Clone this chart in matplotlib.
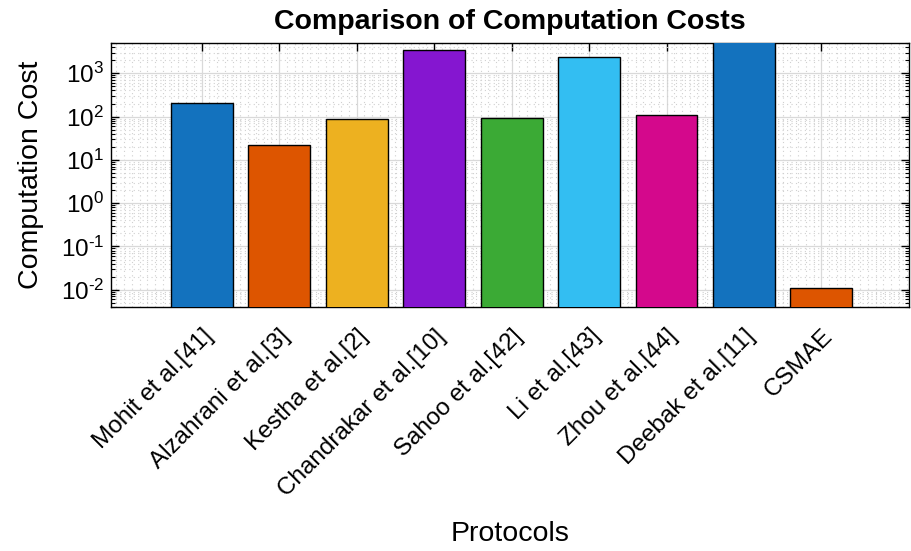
import matplotlib.pyplot as plt
import matplotlib.transforms as mtransforms
import numpy as np
from matplotlib.ticker import MultipleLocator, LogLocator, NullFormatter, FuncFormatter

plt.rcParams['font.family'] = ['Liberation Sans', 'DejaVu Sans']
plt.rcParams['mathtext.fontset'] = 'custom'
plt.rcParams['mathtext.rm'] = 'Liberation Sans'
plt.rcParams['mathtext.it'] = 'Liberation Sans:italic'
plt.rcParams['mathtext.bf'] = 'Liberation Sans:bold'

protocols = ['Mohit et al.[41]', 'Alzahrani et al.[3]', 'Kestha et al.[2]',
             'Chandrakar et al.[10]', 'Sahoo et al.[42]', 'Li et al.[43]',
             'Zhou et al.[44]', 'Deebak et al.[11]', 'CSMAE']
costs = [210, 22, 90, 3400, 95, 2400, 110, 6000, 0.011]
colors = ['#1372BE', '#DD5500', '#EDB120', '#8516D0', '#3BAA35',
          '#33BEF2', '#D4088C', '#1372BE', '#DD5500']


def pow10(v, pos):
    e = int(round(np.log10(v)))
    if e < 0:
        return r'$\mathregular{10^{\text{-}%d}}$' % (-e)
    return r'$\mathregular{10^{%d}}$' % e


fig = plt.figure(figsize=(9.11, 5.51), dpi=100)
ax = fig.add_axes([111/911, 1 - 307/551, (909-111)/911, (307-43)/551])

x = np.arange(1, len(protocols) + 1)
ax.bar(x, costs, width=0.8, color=colors, edgecolor='black', linewidth=1.0, zorder=3)

ax.set_yscale('log')
ax.set_ylim(0.004, 5000)
ax.set_xlim(-0.17, 10.13)

ax.set_xticks(x)
ax.set_xticklabels(protocols, rotation=45, ha='right', va='top',
                   rotation_mode='anchor', fontsize=17.5)
shift = mtransforms.ScaledTranslation(5/100, 0, fig.dpi_scale_trans)
for lbl in ax.get_xticklabels():
    lbl.set_transform(lbl.get_transform() + shift)
ax.xaxis.set_minor_locator(MultipleLocator(0.1))
ax.yaxis.set_major_locator(LogLocator(base=10, numticks=20))
ax.yaxis.set_major_formatter(FuncFormatter(pow10))
ax.yaxis.set_minor_locator(LogLocator(base=10, subs=np.arange(2, 10), numticks=20))
ax.yaxis.set_minor_formatter(NullFormatter())
ax.tick_params(axis='y', labelsize=17.5)

ax.tick_params(which='major', direction='in', length=6, width=1,
               top=True, right=True, pad=5)
ax.tick_params(axis='x', which='major', pad=13)
ax.tick_params(axis='y', which='minor', direction='in', length=3, width=0.8,
               left=True, right=True)
ax.tick_params(axis='x', which='minor', length=0)

ax.grid(which='major', color='#D9D9D9', linestyle='-', linewidth=0.9, zorder=0)
ax.grid(which='minor', color='#D0D0D0', linestyle=(0, (1, 3)), linewidth=0.8, zorder=0)
ax.set_axisbelow(True)

for s in ax.spines.values():
    s.set_linewidth(1.0)

ax.set_ylabel('Computation Cost', fontsize=20.5, labelpad=12)
ax.set_xlabel('Protocols', fontsize=20.5, labelpad=15)
ax.set_title('Comparison of Computation Costs', fontsize=20.5, fontweight='bold', pad=10)

fig.savefig('out.png', dpi=100)
